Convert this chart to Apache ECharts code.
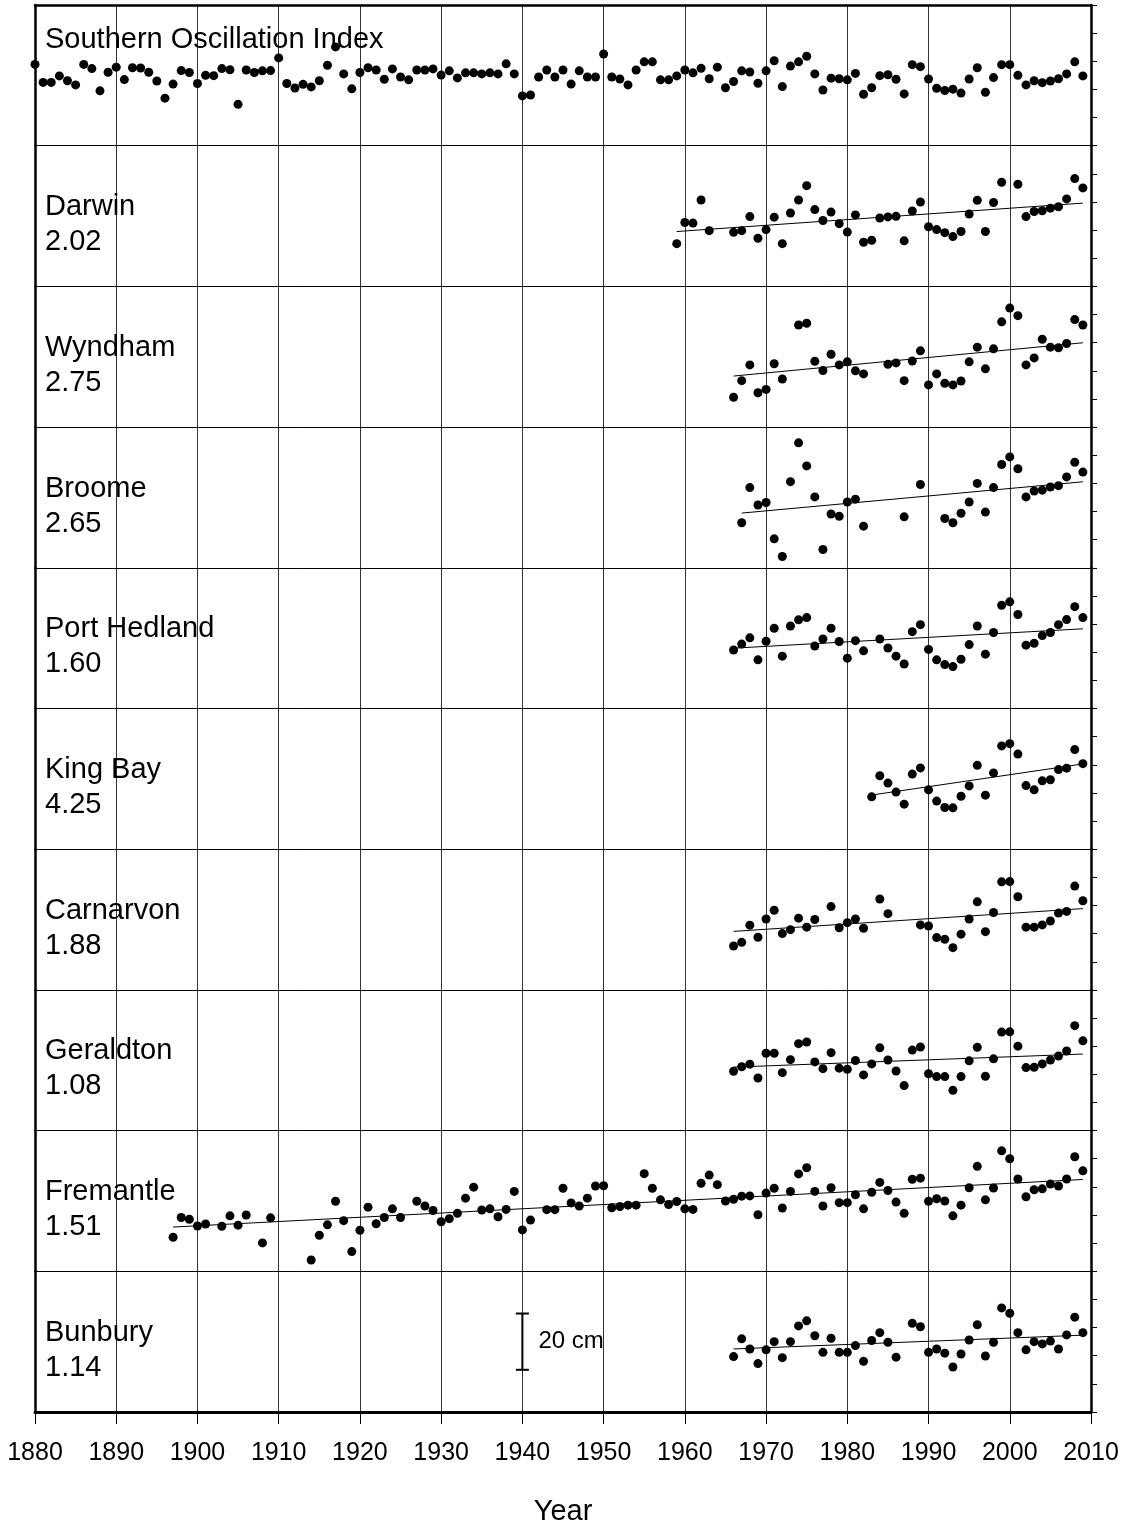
<!DOCTYPE html>
<html>
<head>
<meta charset="utf-8">
<script src="https://cdn.jsdelivr.net/npm/echarts@6.0.0/dist/echarts.min.js"></script>
<style>
  html, body { margin: 0; background: #fff; }
  #chart { width: 1125px; height: 1526px; }
</style>
</head>
<body>
<div id="chart"></div>
<script>
// anomalies in cm, one value per year from the start year, null = no data
const soiStart = 1880;
const soi = [
  3.9, -2.5, -2.5, -0.2, -1.9, -3.4, 3.9, 2.4, -5.5, 1.1,
  2.9, -1.5, 2.7, 2.6, 1.1, -2.0, -8.1, -3.1, 1.7, 1.0,
  -2.9, 0.0, -0.1, 2.4, 2.0, -10.3, 1.9, 1.0, 1.6, 1.7,
  6.2, -2.9, -4.5, -3.2, -4.1, -1.9, 3.6, 10.1, 0.5, -4.8,
  1.0, 2.7, 1.9, -1.4, 2.3, -0.6, -1.6, 1.9, 1.9, 2.3,
  0.1, 1.6, -0.9, 0.9, 0.9, 0.5, 0.9, 0.5, 4.1, 0.5,
  -7.3, -7.0, -0.6, 1.9, -0.6, 1.9, -3.1, 1.6, -0.6, -0.6,
  7.6, -0.6, -1.3, -3.4, 1.9, 4.8, 4.8, -1.6, -1.6, -0.2,
  1.9, 0.9, 2.5, -1.2, 2.9, -4.4, -2.2, 1.6, 1.2, -2.8,
  1.6, 5.2, -4.0, 3.3, 4.8, 6.8, 0.5, -5.2, -1.0, -1.2,
  -1.6, 0.7, -6.7, -4.4, -0.1, 0.2, -1.4, -6.6, 3.8, 3.1,
  -1.3, -4.6, -5.4, -4.9, -6.3, -1.3, 2.7, -6.0, -0.8, 3.8,
  3.8, 0.0, -3.4, -1.9, -2.6, -2.0, -1.2, 0.5, 4.8, -0.2
];

const darwin = [
  -9.8, -2.3, -2.5, 5.7, -5.2, null, null, -5.8, -5.2, -0.2, -7.9,
  -4.8, -0.4, -9.8, 1.1, 5.7, 10.8, 2.3, -1.6, 1.4, -2.7,
  -5.7, 0.4, -9.3, -8.6, -0.7, -0.3, -0.1, -8.8, 1.8, 5.0,
  -3.8, -4.8, -5.9, -7.3, -5.5, 0.7, 5.6, -5.5, 4.8, 12.0,
  null, 11.3, -0.2, 1.6, 1.9, 2.8, 3.3, 6.1, 13.3, 10.0
];
const wyndham = [
  -14.4, -8.5, -2.9, -12.8,
  -11.6, -2.5, -7.9, null, 11.3, 11.9, -1.6, -4.9, 0.9, -2.9,
  -1.8, -5.0, -6.1, null, null, -2.7, -2.2, -8.5, -1.5, 2.1,
  -10.0, -6.1, -9.4, -10.0, -8.6, -1.8, 3.4, -4.3, 2.8, 12.4,
  17.3, 14.6, -2.9, -0.4, 6.2, 3.4, 3.2, 4.7, 13.2, 11.3
];
const broome = [
  -9.0, 3.5, -2.7,
  -1.8, -14.7, -21.0, 5.6, 19.4, 11.2, 0.2, -18.5, -5.9, -6.7,
  -1.6, -0.6, -10.2, null, null, null, null, -6.9, null, 4.6,
  null, null, -7.5, -9.0, -5.6, -1.6, 5.0, -5.2, 3.5, 11.7,
  14.4, 10.2, 0.2, 2.3, 2.6, 3.7, 4.2, 7.3, 12.5, 9.0
];
const portHedland = [
  -4.2, -2.1, 0.1, -7.7,
  -1.1, 3.5, -6.4, 4.3, 6.5, 7.3, -2.8, -0.3, 3.5, -1.2,
  -7.1, -0.9, -4.5, null, -0.3, -3.5, -6.4, -9.2, 2.3, 4.8,
  -4.0, -7.7, -9.4, -10.1, -7.5, -2.3, 4.3, -5.7, 2.0, 11.7,
  12.9, 8.4, -2.5, -1.8, 0.9, 2.0, 4.8, 6.6, 11.2, 7.3
];
const kingBay = [
  -6.4, 1.1, -1.5, -4.7, -9.0, 1.7, 3.9,
  -3.9, -7.9, -10.2, -10.3, -6.2, -2.5, 4.8, -5.8, 2.1, 11.7,
  12.5, 8.8, -2.4, -3.9, -0.7, -0.3, 3.3, 3.8, 10.4, 5.4
];
const carnarvon = [
  -9.4, -8.1, -2.0, -6.3,
  0.2, 3.3, -5.0, -3.6, 0.5, -2.7, 0.0, null, 4.6, -2.9,
  -1.1, 0.2, -3.1, null, 7.3, 2.1, null, null, null, -1.9,
  -2.3, -6.4, -7.0, -10.0, -5.2, 0.2, 6.3, -4.3, 2.5, 13.4,
  13.5, 8.1, -2.7, -2.7, -1.9, -0.5, 2.3, 2.9, 11.9, 6.7
];
const geraldton = [
  -3.9, -2.3, -1.4, -6.3,
  2.5, 2.5, -4.4, 0.2, 5.9, 6.5, -0.6, -3.0, 2.7, -2.8,
  -3.2, -0.1, -5.2, -1.3, 4.4, 0.1, -3.8, -9.0, 3.6, 4.7,
  -4.8, -5.8, -5.8, -10.7, -5.8, -0.2, 4.6, -5.7, 0.5, 10.0,
  10.1, 5.0, -2.6, -2.5, -1.3, 0.1, 1.5, 3.3, 12.3, 6.9
];
const fremantle = [
  -12.9, -5.9, -6.5,
  -8.9, -8.2, null, -9.0, -5.3, -8.6, -5.0, null, -14.9, -6.0,
  null, null, null, null, -21.0, -12.2, -8.5, -0.1, -7.0, -18.0,
  -10.4, -2.2, -8.1, -5.9, -2.8, -5.9, null, -0.1, -1.8, -3.4,
  -7.4, -6.3, -4.4, 1.0, 4.9, -3.2, -2.8, -5.6, -3.0, 3.4,
  -10.3, -6.8, null, -3.1, -3.1, 4.5, -0.7, -1.8, 1.0, 5.3,
  5.4, -2.4, -2.0, -1.5, -1.5, 9.7, 4.5, 0.4, -1.3, -0.2,
  -2.8, -3.0, 6.3, 9.2, 5.8, 0.0, 0.6, 1.7, 1.8, -4.9,
  2.8, 4.5, -2.5, 3.4, 9.6, 11.8, 3.4, -1.8, 4.7, -0.6,
  -0.6, 2.2, -2.8, 3.1, 6.6, 3.7, -0.4, -4.4, 7.7, 8.1,
  -0.1, 0.8, 0.0, -5.3, -1.5, 4.7, 12.3, 0.4, 4.6, 17.8,
  15.0, 7.8, 1.5, 4.0, 4.3, 6.0, 5.3, 7.8, 15.7, 10.7
];
const bunbury = [
  -5.3, 1.0, -2.6, -7.8,
  -2.9, 0.0, -5.7, 0.0, 5.6, 7.4, 2.1, -3.8, 1.2, -3.8,
  -3.8, -1.4, -7.0, 0.4, 3.2, -0.2, -5.5, null, 6.5, 5.3,
  -3.8, -2.6, -4.1, -9.0, -4.4, 0.6, 6.0, -5.1, -0.2, 12.0,
  10.1, 3.2, -2.9, 0.0, -0.8, 0.2, -2.6, 2.4, 8.7, 3.2
];

const stationNames = ['Darwin', 'Wyndham', 'Broome', 'Port Hedland', 'King Bay', 'Carnarvon', 'Geraldton', 'Fremantle', 'Bunbury'];
const trendRates = ['2.02', '2.75', '2.65', '1.60', '4.25', '1.88', '1.08', '1.51', '1.14']; // mm/yr
const firstYears = [1959, 1966, 1967, 1966, 1983, 1966, 1966, 1897, 1966];
const stationLevels = [darwin, wyndham, broome, portHedland, kingBay, carnarvon, geraldton, fremantle, bunbury];

const scaleBarYear = 1940;
const scaleBarCm = [-10, 10];

const panelNames = ['Southern Oscillation Index'].concat(stationNames.map((n, i) => n + '\n' + trendRates[i]));
const panelValues = [soi].concat(stationLevels);
const panelStarts = [soiStart].concat(firstYears);

const TOP = 5;
const PH = 140.7;
const FONT = 'Liberation Sans, Arial, sans-serif';

let myChart = echarts.init(document.getElementById('chart'));

let grids = [], xAxes = [], yAxes = [], series = [], titles = [];

panelValues.forEach((vals, i) => {
  const last = i === panelValues.length - 1;
  const top = TOP + i * PH;
  // outerBoundsMode none: keep every panel the same size (v6 would shrink the last one)
  grids.push({ left: 35, right: 34, top: top, height: PH, outerBoundsMode: 'none' });

  xAxes.push({
    gridIndex: i,
    type: 'value',
    min: 1880,
    max: 2010,
    interval: 10,
    axisLine: { show: true, onZero: false, lineStyle: { color: '#000', width: last ? 3 : 1 } },
    axisTick: { show: last, length: 12, lineStyle: { color: '#000', width: 1 } },
    axisLabel: {
      show: last,
      margin: 29,
      fontSize: 25,
      color: '#000',
      fontFamily: FONT,
      formatter: v => String(v)
    },
    splitLine: { show: true, lineStyle: { color: '#333', width: 1 } },
    name: last ? 'Year' : '',
    nameLocation: 'middle',
    nameGap: 85,
    nameTextStyle: { fontSize: 29, color: '#000', fontFamily: FONT }
  });

  const yBase = {
    gridIndex: i,
    type: 'value',
    min: -25,
    max: 25,
    interval: 10,
    axisLabel: { show: false },
    splitLine: { show: false }
  };
  yAxes.push(Object.assign({}, yBase, {
    position: 'left',
    axisLine: { show: true, onZero: false, lineStyle: { color: '#000', width: 2.5 } },
    axisTick: { show: false }
  }));
  yAxes.push(Object.assign({}, yBase, {
    position: 'right',
    axisLine: { show: true, onZero: false, lineStyle: { color: '#000', width: 2.5 } },
    axisTick: { show: true, inside: false, length: 6, lineStyle: { color: '#000', width: 1 } }
  }));

  const pts = vals
    .map((v, k) => [panelStarts[i] + k, v])
    .filter(p => p[1] !== null);

  series.push({
    type: 'scatter',
    xAxisIndex: i,
    yAxisIndex: 2 * i,
    data: pts,
    symbolSize: 9,
    itemStyle: { color: '#000', opacity: 1 },
    silent: true,
    z: 3
  });

  // trend line: slope from the printed rate, through the mean of the data
  if (i > 0) {
    const slope = parseFloat(trendRates[i - 1]) / 10;
    const mx = pts.reduce((s, p) => s + p[0], 0) / pts.length;
    const my = pts.reduce((s, p) => s + p[1], 0) / pts.length;
    const x0 = pts[0][0];
    const x1 = pts[pts.length - 1][0];
    series.push({
      type: 'line',
      xAxisIndex: i,
      yAxisIndex: 2 * i,
      data: [[x0, my + slope * (x0 - mx)], [x1, my + slope * (x1 - mx)]],
      showSymbol: false,
      symbol: 'none',
      lineStyle: { color: '#000', width: 1 },
      silent: true,
      z: 2
    });
  }

  titles.push({
    text: panelNames[i],
    left: 45,
    top: top + (i === 0 ? 17 : 44),
    padding: 0,
    textStyle: { fontSize: 29, lineHeight: 35, fontWeight: 'normal', color: '#000', fontFamily: FONT }
  });
});

// thick top border
xAxes.push({
  gridIndex: 0,
  type: 'value',
  position: 'top',
  min: 1880,
  max: 2010,
  interval: 10,
  axisLine: { show: true, onZero: false, lineStyle: { color: '#000', width: 2.5 } },
  axisTick: { show: false },
  axisLabel: { show: false },
  splitLine: { show: false }
});

// 20 cm scale bar in the last panel
const lastIdx = panelValues.length - 1;
series.push({
  type: 'line',
  xAxisIndex: lastIdx,
  yAxisIndex: 2 * lastIdx,
  data: scaleBarCm.map(v => [scaleBarYear, v]),
  symbol: 'rect',
  symbolSize: [13, 2],
  showSymbol: true,
  itemStyle: { color: '#000', opacity: 1 },
  lineStyle: { color: '#000', width: 2 },
  silent: true,
  z: 4
});
series.push({
  type: 'scatter',
  xAxisIndex: lastIdx,
  yAxisIndex: 2 * lastIdx,
  data: [[scaleBarYear, (scaleBarCm[0] + scaleBarCm[1]) / 2]],
  symbolSize: 0,
  itemStyle: { opacity: 1 },
  label: {
    show: true,
    position: 'right',
    distance: 16,
    formatter: (scaleBarCm[1] - scaleBarCm[0]) + ' cm',
    fontSize: 24,
    color: '#000',
    fontFamily: FONT
  },
  silent: true
});

let option = {
  backgroundColor: '#fff',
  animation: false,
  title: titles,
  grid: grids,
  xAxis: xAxes,
  yAxis: yAxes,
  series: series
};

myChart.setOption(option);
</script>
</body>
</html>
